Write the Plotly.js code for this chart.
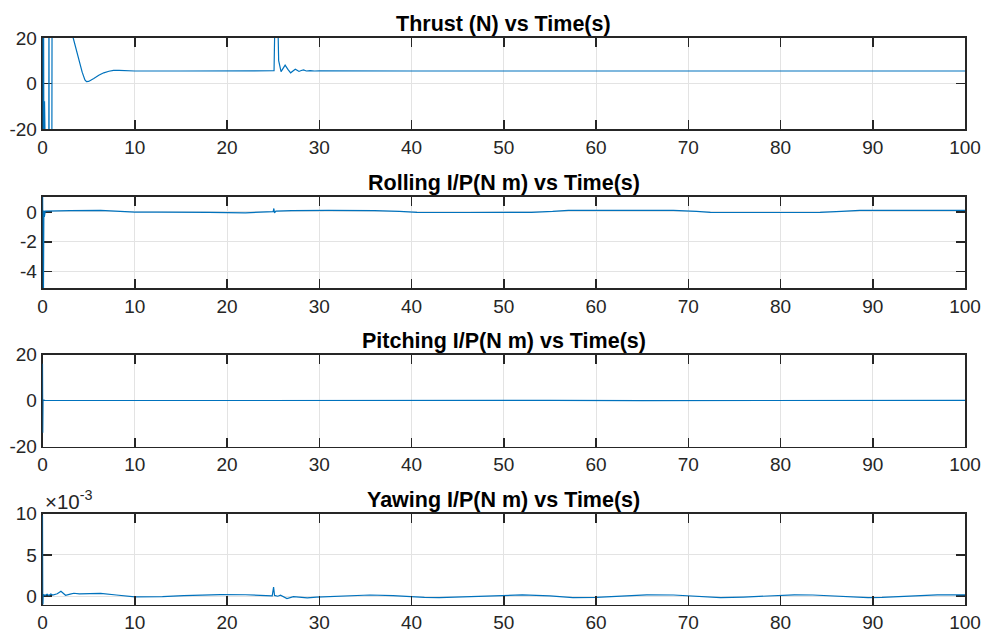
<!DOCTYPE html>
<html>
<head>
<meta charset="utf-8">
<script src="https://cdn.plot.ly/plotly-3.0.1.min.js"></script>
<style>html,body{margin:0;padding:0;background:#fff;}#chart{width:986px;height:636px;}</style>
</head>
<body>
<div id="chart"></div>
<script>
// ---- Data ----
var titles = ["Thrust (N) vs Time(s)", "Rolling I/P(N m) vs Time(s)", "Pitching I/P(N m) vs Time(s)", "Yawing I/P(N m) vs Time(s)"];

var xTickVals = [0,10,20,30,40,50,60,70,80,90,100];
var xTickText = ["0","10","20","30","40","50","60","70","80","90","100"];

var thrustTickVals = [-20,0,20];
var thrustTickText = ["-20","0","20"];
var rollTickVals = [-4,-2,0];
var rollTickText = ["-4","-2","0"];
var pitchTickVals = [-20,0,20];
var pitchTickText = ["-20","0","20"];
var yawTickVals = [0,5,10];
var yawTickText = ["0","5","10"];

// Thrust (N)
var thrustT = [0,0.02,0.05,0.1,0.18,0.22,0.26,0.5,0.68,0.7,0.72,1.0,1.05,1.5,2.5,3.0,3.33,3.6,3.94,4.3,4.6,4.77,5.0,5.3,5.56,6.1,6.64,7.2,7.7,8.3,9.2,10,15,20,24,25.0,25.1,25.2,25.35,25.5,25.6,25.86,26.05,26.3,26.6,26.9,27.15,27.4,27.6,27.8,28.05,28.3,28.6,29,29.5,30,40,50,60,70,80,90,100];
var thrustV = [60,-80,-80,60,-80,-7.8,-80,-80,-80,80,-80,-80,80,80,40,28,20,15.5,10.4,5,1.6,0.8,0.9,1.5,2.2,3.6,4.7,5.4,5.8,5.8,5.6,5.5,5.5,5.5,5.5,5.5,5.6,30,50,30,10,5.2,6.5,8.1,6.2,4.7,5.5,6.3,5.8,5.3,5.7,6.0,5.5,5.7,5.5,5.55,5.5,5.5,5.5,5.5,5.5,5.5,5.5];

// Rolling input (N m)
var rollT = [0,0.03,0.08,0.15,0.2,0.3,1,3,6.3,8,10,12.5,15.5,18,22,24,25.0,25.08,25.15,25.3,27,31,36,38.7,40.6,46,53,55.3,57,62,68.4,70.9,72.4,78,84.3,86.6,88.6,94,100];
var rollV = [3,-8,-8,0.1,-0.33,0.05,0.05,0.08,0.11,0.05,-0.02,-0.02,0.0,-0.03,-0.06,-0.02,0.02,0.23,-0.07,0.05,0.09,0.1,0.09,0.03,-0.03,-0.04,-0.03,0.03,0.1,0.11,0.1,0.03,-0.03,-0.04,-0.03,0.03,0.1,0.11,0.1];

// Pitching input (N m)
var pitchT = [0,0.03,0.06,0.3,5,12,20,25.0,25.08,25.15,25.3,35,45,55,65,75,85,95,100];
var pitchV = [16,-14,0.3,0,0.02,-0.02,0.02,0,0.15,-0.1,0,0.02,-0.02,0.02,-0.02,0.02,-0.02,0.02,0.02];

// Yawing input (x 10^-3 N m)
var yawT = [0,0.03,0.08,0.3,0.5,0.7,0.9,1.1,1.3,1.6,2.0,2.5,3.0,3.4,4,5,6.3,8,10,13,15.3,19.3,22,24.9,25.05,25.15,25.5,25.8,26.5,27.2,28.0,28.7,29.7,31,34,35.5,38,41.4,43,46,50.5,52,55,57.5,60,62.5,65.5,68.4,71,73.5,76,78.5,81.5,83.5,86,89.5,91,94,97,100];
var yawV = [9.8,-1.5,0.2,0.12,0.25,0.1,0.28,0.15,0.2,0.3,0.6,0.12,0.25,0.36,0.28,0.3,0.35,0.15,-0.08,-0.05,0.08,0.2,0.18,0.05,1.1,0.1,0.0,0.12,-0.28,-0.05,-0.15,-0.2,-0.1,-0.05,0.12,0.15,0.08,-0.15,-0.16,-0.05,0.12,0.16,0.05,-0.16,-0.15,0.0,0.16,0.15,0.0,-0.16,-0.1,0.05,0.16,0.15,0.0,-0.16,-0.15,0.0,0.16,0.16];

var yRanges = [[-20,20],[-5.1,1],[-20,20],[-1,10]];

// ---- Layout ----
var FONT = '"Liberation Sans", Arial, Helvetica, sans-serif';
var W = 986, H = 636;
var xL = 42.5, xR = 965;
var tops = [38, 197, 354.5, 513.5];
var bots = [129, 288, 446.5, 604.5];

var lineColor = '#0072BD';
var axColor = '#262626';
var gridColor = '#e3e3e3';

var xs = [thrustT, rollT, pitchT, yawT];
var ys = [thrustV, rollV, pitchV, yawV];
var yTV = [thrustTickVals, rollTickVals, pitchTickVals, yawTickVals];
var yTT = [thrustTickText, rollTickText, pitchTickText, yawTickText];

var data = [];
var layout = {
  width: W, height: H,
  margin: {l:0, r:0, t:0, b:0},
  paper_bgcolor: '#ffffff',
  plot_bgcolor: '#ffffff',
  showlegend: false,
  font: {family: FONT, color: axColor, size: 19},
  annotations: []
};

for (var i = 0; i < 4; i++) {
  var sfx = i === 0 ? '' : String(i + 1);
  data.push({
    type: 'scatter', mode: 'lines',
    x: xs[i], y: ys[i],
    xaxis: 'x' + sfx, yaxis: 'y' + sfx,
    line: {color: lineColor, width: 1.2},
    hoverinfo: 'skip'
  });
  var yd = [1 - bots[i] / H, 1 - tops[i] / H];
  layout['xaxis' + sfx] = {
    domain: [xL / W, xR / W],
    anchor: 'y' + sfx,
    range: [0, 100],
    tickmode: 'array', tickvals: xTickVals, ticktext: xTickText,
    ticks: 'inside', ticklen: 9, tickwidth: 1.5, tickcolor: axColor,
    showline: true, linecolor: axColor, linewidth: 1.8, mirror: 'ticks',
    showgrid: true, gridcolor: gridColor, gridwidth: 1,
    zeroline: false,
    tickfont: {family: FONT, size: 19, color: axColor},
    fixedrange: true
  };
  layout['yaxis' + sfx] = {
    domain: yd,
    anchor: 'x' + sfx,
    range: yRanges[i],
    tickmode: 'array', tickvals: yTV[i], ticktext: yTT[i],
    ticks: 'inside', ticklen: 9, tickwidth: 1.5, tickcolor: axColor,
    showline: true, linecolor: axColor, linewidth: 1.8, mirror: 'ticks',
    showgrid: true, gridcolor: gridColor, gridwidth: 1,
    zeroline: false,
    layer: 'below traces',
    tickfont: {family: FONT, size: 19, color: axColor},
    fixedrange: true
  };
  layout.annotations.push({
    xref: 'paper', yref: 'paper',
    x: (xL + xR) / 2 / W, y: yd[1],
    xanchor: 'center', yanchor: 'bottom', yshift: 0,
    text: '<b>' + titles[i] + '</b>',
    showarrow: false,
    font: {family: FONT, size: 21.5, color: '#000000'}
  });
}

// exponent label for the yaw axis
layout.annotations.push({
  xref: 'paper', yref: 'paper',
  x: xL / W, y: 1 - tops[3] / H,
  xanchor: 'left', yanchor: 'bottom', yshift: -1,
  text: '×10<sup>-3</sup>',
  showarrow: false,
  font: {family: FONT, size: 20.5, color: axColor}
});

Plotly.newPlot('chart', data, layout, {displayModeBar: false, staticPlot: true});
</script>
</body>
</html>
